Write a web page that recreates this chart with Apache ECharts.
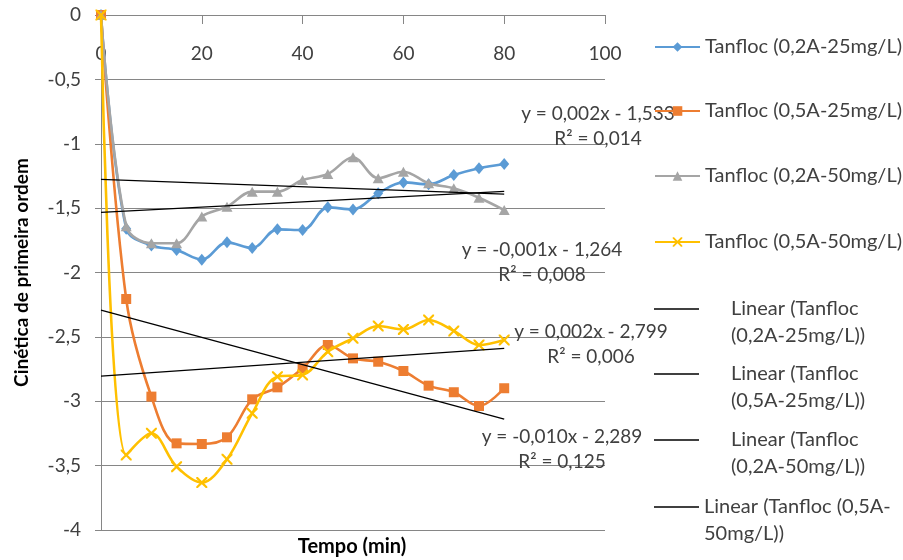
<!DOCTYPE html>
<html><head><meta charset="utf-8">
<script src="https://cdn.jsdelivr.net/npm/echarts/dist/echarts.min.js"></script>
<style>html,body{margin:0;padding:0;background:#fff}#c{width:903px;height:560px}</style>
</head><body><div id="c"></div>
<script>
// ---- data ----
const tempo = [0, 5, 10, 15, 20, 25, 30, 35, 40, 45, 50, 55, 60, 65, 70, 75, 80];
const names = ['Tanfloc (0,2A-25mg/L)', 'Tanfloc (0,5A-25mg/L)', 'Tanfloc (0,2A-50mg/L)', 'Tanfloc (0,5A-50mg/L)'];
const t02A25 = [0, -1.66, -1.79, -1.825, -1.90, -1.766, -1.81, -1.665, -1.67, -1.494, -1.51, -1.385, -1.30, -1.315, -1.243, -1.19, -1.157];
const t05A25 = [0, -2.206, -2.964, -3.327, -3.332, -3.28, -2.985, -2.892, -2.744, -2.563, -2.667, -2.693, -2.765, -2.879, -2.93, -3.037, -2.899];
const t02A50 = [0, -1.64, -1.773, -1.773, -1.566, -1.489, -1.372, -1.372, -1.282, -1.235, -1.105, -1.268, -1.217, -1.307, -1.346, -1.419, -1.515];
const t05A50 = [0, -3.417, -3.249, -3.508, -3.632, -3.451, -3.094, -2.809, -2.796, -2.615, -2.511, -2.416, -2.442, -2.369, -2.454, -2.563, -2.524];
const trendNames = ['Linear (Tanfloc (0,2A-25mg/L))', 'Linear (Tanfloc (0,5A-25mg/L))', 'Linear (Tanfloc (0,2A-50mg/L))', 'Linear (Tanfloc (0,5A-50mg/L))'];
const trendLabels = ['y = 0,002x - 1,533\nR² = 0,014', 'y = -0,010x - 2,289\nR² = 0,125', 'y = -0,001x - 1,264\nR² = 0,008', 'y = 0,002x - 2,799\nR² = 0,006'];
const xTicks = {min: 0, max: 100, interval: 20};
const yTicks = {min: -4, max: 0, interval: 0.5};

// ---- chart ----
const F = 'Lato, "Open Sans", sans-serif';
const TXT = '#404040';
const GRID = '#868686';
const colors = ['#5B9BD5', '#ED7D31', '#A5A5A5', '#FFC000'];
const symbols = ['diamond', 'rect', 'triangle',
  'path://M0,0L1.4,0L5,3.6L8.6,0L10,0L10,1.4L6.4,5L10,8.6L10,10L8.6,10L5,6.4L1.4,10L0,10L0,8.6L3.6,5L0,1.4Z'];
const symSizes = [[10, 12], 10, [11, 10], 11];
const allVals = [t02A25, t05A25, t02A50, t05A50];

function linreg(xs, ys) {
  const n = xs.length;
  const mx = xs.reduce((a, b) => a + b, 0) / n;
  const my = ys.reduce((a, b) => a + b, 0) / n;
  let sxy = 0, sxx = 0;
  for (let i = 0; i < n; i++) { sxy += (xs[i] - mx) * (ys[i] - my); sxx += (xs[i] - mx) ** 2; }
  const a = sxy / sxx;
  return [a, my - a * mx];
}

const series = [];
allVals.forEach((vals, i) => {
  series.push({
    name: names[i], type: 'line', smooth: 0.35,
    data: tempo.map((x, k) => [x, vals[k]]),
    symbol: symbols[i], symbolSize: symSizes[i], showSymbol: true,
    lineStyle: {color: colors[i], width: 2.6},
    itemStyle: {color: colors[i]},
    z: 2 + i, animation: false
  });
});
allVals.forEach((vals, i) => {
  const [a, b] = linreg(tempo, vals);
  const x0 = tempo[0], x1 = tempo[tempo.length - 1];
  series.push({
    name: trendNames[i], type: 'line', symbol: 'none',
    data: [[x0, b + a * x0], [x1, b + a * x1]],
    lineStyle: {color: '#000', width: 1.3}, itemStyle: {color: '#000'},
    z: 10, animation: false
  });
});

// legend entries (icon centre y)
const legendY = [47, 111, 176, 242, 309, 374, 440, 507];
const legendNames = names.concat(trendNames);
const legends = legendNames.map((nm, i) => {
  const base = {
    left: 654, orient: 'vertical', padding: 0,
    itemWidth: 45, itemHeight: 12, selectedMode: false,
  };
  if (i < 4) {
    return Object.assign(base, {data: [{name: nm}], top: legendY[i] - 11,
      textStyle: {fontFamily: F, fontSize: 20, color: TXT, lineHeight: 22}});
  }
  const two = i < 7 ? nm.replace('Linear (Tanfloc ', 'Linear (Tanfloc\n') : nm.replace('(0,5A-', '(0,5A-\n');
  return Object.assign(base, {
    data: [{name: nm, icon: 'rect', itemStyle: {color: '#000', opacity: 1}}],
    itemHeight: 1.4,
    top: legendY[i] - 40.5,
    formatter: () => ' \n' + two,
    textStyle: {fontFamily: F, fontSize: 20, color: TXT, lineHeight: 27,
      padding: [0, 0, 0, i < 7 ? 27 : 0]}});
});

const labelPos = [[598, 126], [562, 449], [542, 262.5], [591, 344]];
const graphics = trendLabels.map((t, i) => ({
  type: 'text', x: labelPos[i][0], y: labelPos[i][1], z: 1,
  style: {text: t, font: '19px ' + F, fill: TXT, align: 'center', verticalAlign: 'middle',
    textAlign: 'center', textVerticalAlign: 'middle', lineHeight: 25}
}));
graphics.push({
  type: 'text', x: 352, y: 547, style: {text: 'Tempo (min)', font: 'bold 20px ' + F, fill: '#000',
    align: 'center', verticalAlign: 'middle', textAlign: 'center', textVerticalAlign: 'middle'}
});

const option = {
  backgroundColor: '#fff',
  animation: false,
  grid: {left: 101, top: 15, right: 298, bottom: 30, containLabel: false},
  xAxis: {
    type: 'value', min: xTicks.min, max: xTicks.max, interval: xTicks.interval, position: 'top',
    axisLine: {show: true, lineStyle: {color: GRID}},
    axisTick: {show: true, inside: true, length: 9, lineStyle: {color: GRID}},
    axisLabel: {inside: true, margin: 29, color: TXT, fontFamily: F, fontSize: 19},
    splitLine: {show: false}
  },
  yAxis: {
    type: 'value', min: yTicks.min, max: yTicks.max, interval: yTicks.interval,
    axisLine: {show: true, lineStyle: {color: GRID}},
    axisTick: {show: true, length: 6, lineStyle: {color: GRID}},
    axisLabel: {margin: 20, color: TXT, fontFamily: F, fontSize: 19,
      formatter: v => String(v).replace('.', ',')},
    splitLine: {show: true, lineStyle: {color: GRID, width: 1}},
    name: 'Cinética de primeira ordem', nameLocation: 'middle', nameRotate: 90, nameGap: 70,
    nameTextStyle: {fontFamily: F, fontWeight: 'bold', fontSize: 19, color: '#000'}
  },
  legend: legends,
  graphic: graphics,
  series: series
};
const chart = echarts.init(document.getElementById('c'), null, {renderer: 'canvas'});
chart.setOption(option);
</script></body></html>
